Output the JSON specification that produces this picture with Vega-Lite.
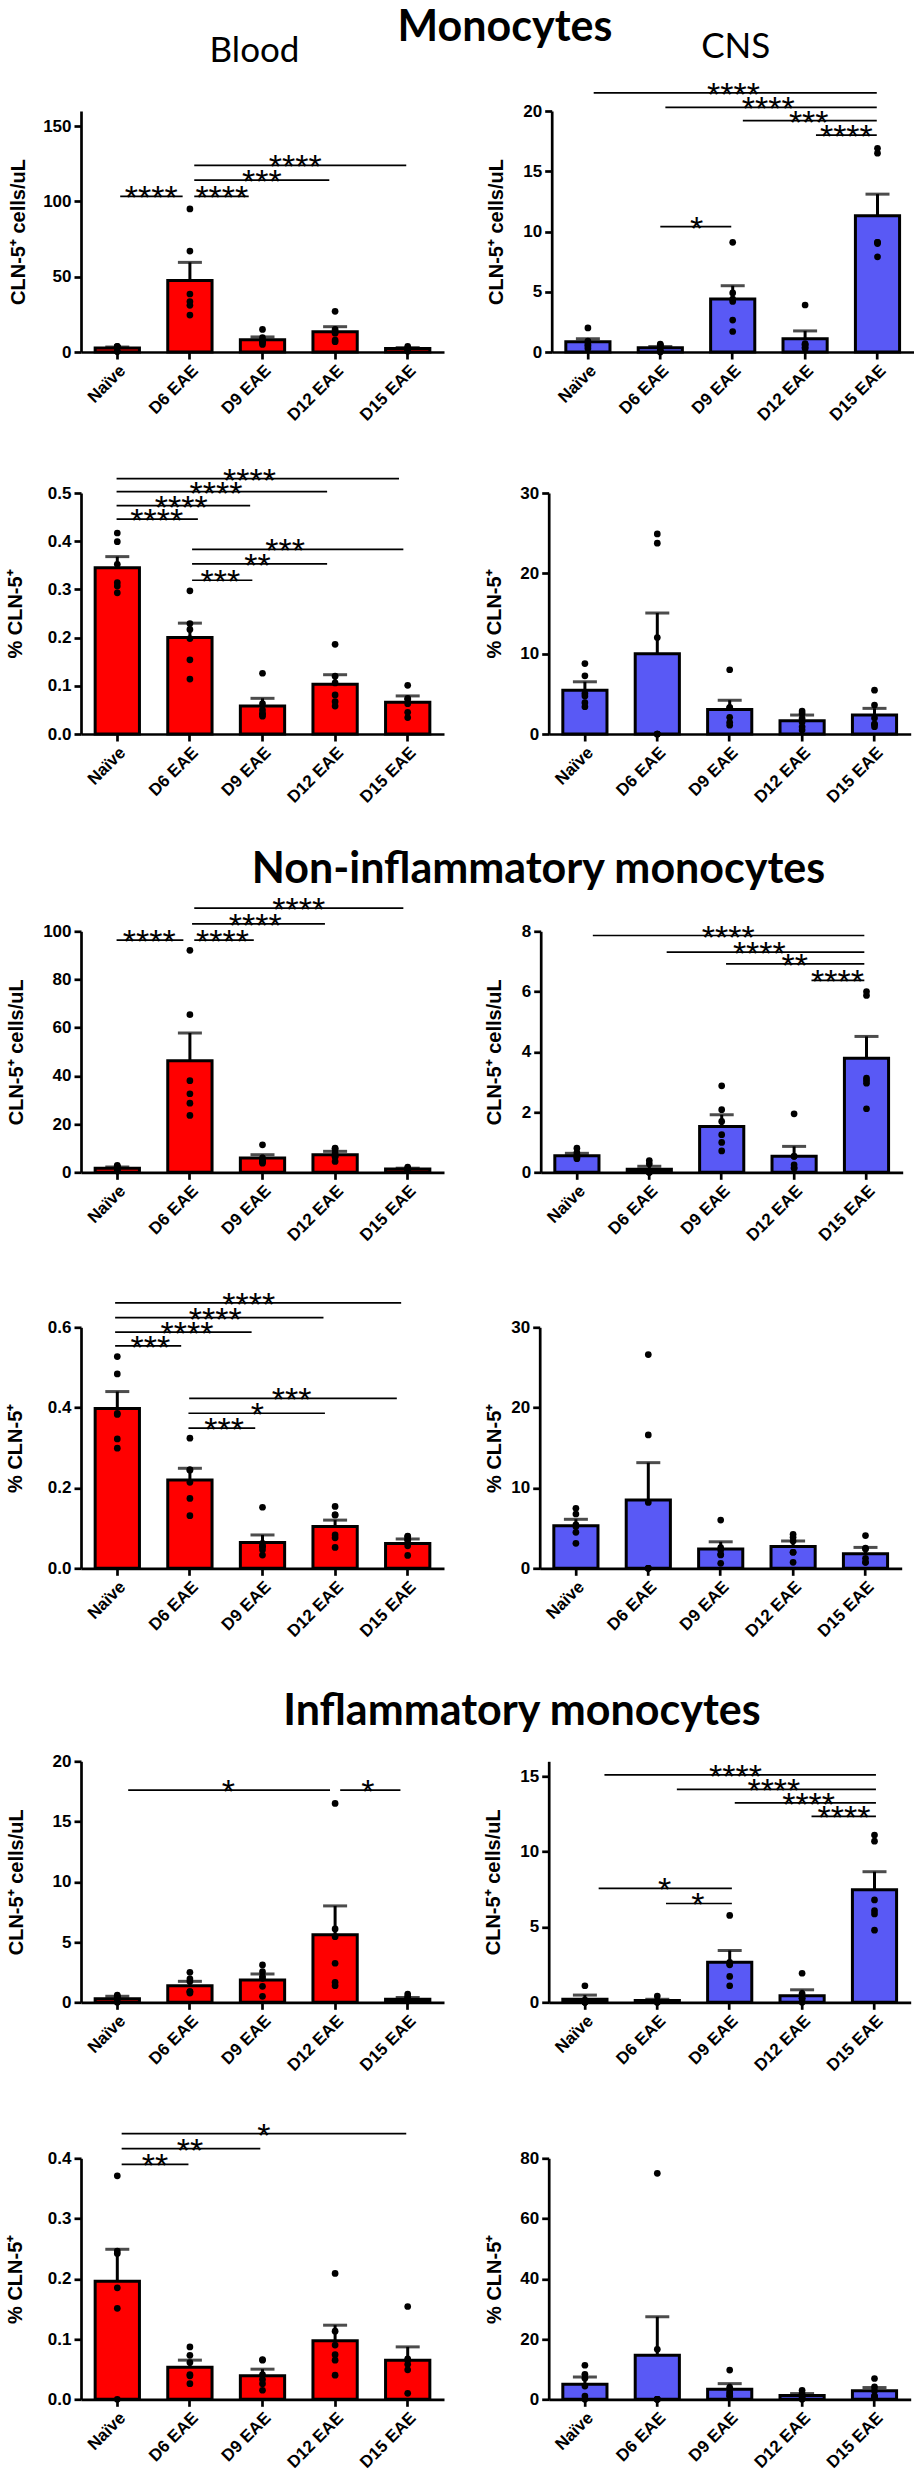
{
"$schema": "https://vega.github.io/schema/vega-lite/v6.json",
"padding": {"left": 5, "top": 7, "right": 0, "bottom": 0},
"background": "white",
"datasets": {
"bars": [
{"p":1,"g":"Naïve","m":2.6,"h":3.3},{"p":1,"g":"D6 EAE","m":47.5,"h":59.5},{"p":1,"g":"D9 EAE","m":8.2,"h":10},{"p":1,"g":"D12 EAE","m":13.5,"h":16.8},{"p":1,"g":"D15 EAE","m":2.3,"h":2.9},
{"p":2,"g":"Naïve","m":0.85,"h":1.1},{"p":2,"g":"D6 EAE","m":0.35,"h":0.45},{"p":2,"g":"D9 EAE","m":4.4,"h":5.5},{"p":2,"g":"D12 EAE","m":1.1,"h":1.75},{"p":2,"g":"D15 EAE","m":11.3,"h":13.1},
{"p":3,"g":"Naïve","m":0.345,"h":0.368},{"p":3,"g":"D6 EAE","m":0.2,"h":0.23},{"p":3,"g":"D9 EAE","m":0.058,"h":0.074},{"p":3,"g":"D12 EAE","m":0.103,"h":0.123},{"p":3,"g":"D15 EAE","m":0.066,"h":0.079},
{"p":4,"g":"Naïve","m":5.46,"h":6.5},{"p":4,"g":"D6 EAE","m":10.0,"h":15.06},{"p":4,"g":"D9 EAE","m":3.06,"h":4.2},{"p":4,"g":"D12 EAE","m":1.65,"h":2.36},{"p":4,"g":"D15 EAE","m":2.36,"h":3.19},
{"p":5,"g":"Naïve","m":1.7,"h":2.2},{"p":5,"g":"D6 EAE","m":46.3,"h":57.8},{"p":5,"g":"D9 EAE","m":5.9,"h":7.3},{"p":5,"g":"D12 EAE","m":7.3,"h":8.7},{"p":5,"g":"D15 EAE","m":1.4,"h":1.7},
{"p":6,"g":"Naïve","m":0.55,"h":0.63},{"p":6,"g":"D6 EAE","m":0.1,"h":0.2},{"p":6,"g":"D9 EAE","m":1.52,"h":1.91},{"p":6,"g":"D12 EAE","m":0.53,"h":0.86},{"p":6,"g":"D15 EAE","m":3.79,"h":4.51},
{"p":7,"g":"Naïve","m":0.398,"h":0.44},{"p":7,"g":"D6 EAE","m":0.22,"h":0.249},{"p":7,"g":"D9 EAE","m":0.064,"h":0.083},{"p":7,"g":"D12 EAE","m":0.104,"h":0.12},{"p":7,"g":"D15 EAE","m":0.062,"h":0.073},
{"p":8,"g":"Naïve","m":5.3,"h":6.1},{"p":8,"g":"D6 EAE","m":8.5,"h":13.15},{"p":8,"g":"D9 EAE","m":2.4,"h":3.3},{"p":8,"g":"D12 EAE","m":2.7,"h":3.4},{"p":8,"g":"D15 EAE","m":1.8,"h":2.6},
{"p":9,"g":"Naïve","m":0.3,"h":0.5},{"p":9,"g":"D6 EAE","m":1.38,"h":1.74},{"p":9,"g":"D9 EAE","m":1.85,"h":2.35},{"p":9,"g":"D12 EAE","m":5.6,"h":8.0},{"p":9,"g":"D15 EAE","m":0.25,"h":0.4},
{"p":10,"g":"Naïve","m":0.21,"h":0.48},{"p":10,"g":"D6 EAE","m":0.12,"h":0.2},{"p":10,"g":"D9 EAE","m":2.66,"h":3.44},{"p":10,"g":"D12 EAE","m":0.44,"h":0.83},{"p":10,"g":"D15 EAE","m":7.47,"h":8.67},
{"p":11,"g":"Naïve","m":0.196,"h":0.249},{"p":11,"g":"D6 EAE","m":0.053,"h":0.065},{"p":11,"g":"D9 EAE","m":0.039,"h":0.05},{"p":11,"g":"D12 EAE","m":0.097,"h":0.123},{"p":11,"g":"D15 EAE","m":0.065,"h":0.087},
{"p":12,"g":"Naïve","m":5.0,"h":7.4},{"p":12,"g":"D6 EAE","m":14.6,"h":27.4},{"p":12,"g":"D9 EAE","m":3.3,"h":5.2},{"p":12,"g":"D12 EAE","m":1.3,"h":1.9},{"p":12,"g":"D15 EAE","m":2.8,"h":3.9}
],
"pts": [
{"p":1,"g":"Naïve","v":0.3},{"p":1,"g":"Naïve","v":3.5},{"p":1,"g":"Naïve","v":3.8},{"p":1,"g":"Naïve","v":3.3},{"p":1,"g":"Naïve","v":0.5},{"p":1,"g":"Naïve","v":3.4},
{"p":1,"g":"D6 EAE","v":95},{"p":1,"g":"D6 EAE","v":67},{"p":1,"g":"D6 EAE","v":38.5},{"p":1,"g":"D6 EAE","v":33.5},{"p":1,"g":"D6 EAE","v":31},{"p":1,"g":"D6 EAE","v":24.5},
{"p":1,"g":"D9 EAE","v":15},{"p":1,"g":"D9 EAE","v":9.5},{"p":1,"g":"D9 EAE","v":7.5},{"p":1,"g":"D9 EAE","v":6.8},{"p":1,"g":"D9 EAE","v":6.5},{"p":1,"g":"D9 EAE","v":5},
{"p":1,"g":"D12 EAE","v":27},{"p":1,"g":"D12 EAE","v":15},{"p":1,"g":"D12 EAE","v":13.5},{"p":1,"g":"D12 EAE","v":12.5},{"p":1,"g":"D12 EAE","v":7.9},{"p":1,"g":"D12 EAE","v":6.8},
{"p":1,"g":"D15 EAE","v":3.8},{"p":1,"g":"D15 EAE","v":2.5},{"p":1,"g":"D15 EAE","v":2},{"p":1,"g":"D15 EAE","v":2},{"p":1,"g":"D15 EAE","v":1.5},{"p":1,"g":"D15 EAE","v":0.5},
{"p":2,"g":"Naïve","v":2.0},{"p":2,"g":"Naïve","v":0.9},{"p":2,"g":"Naïve","v":0.6},{"p":2,"g":"Naïve","v":0.5},{"p":2,"g":"Naïve","v":0.8},{"p":2,"g":"Naïve","v":0.3},
{"p":2,"g":"D6 EAE","v":0.1},{"p":2,"g":"D6 EAE","v":0.6},{"p":2,"g":"D6 EAE","v":0.0},{"p":2,"g":"D6 EAE","v":0.65},{"p":2,"g":"D6 EAE","v":0.1},{"p":2,"g":"D6 EAE","v":0.5},
{"p":2,"g":"D9 EAE","v":9.1},{"p":2,"g":"D9 EAE","v":4.9},{"p":2,"g":"D9 EAE","v":4.4},{"p":2,"g":"D9 EAE","v":4.2},{"p":2,"g":"D9 EAE","v":2.65},{"p":2,"g":"D9 EAE","v":1.7},
{"p":2,"g":"D12 EAE","v":3.9},{"p":2,"g":"D12 EAE","v":0.7},{"p":2,"g":"D12 EAE","v":0.6},{"p":2,"g":"D12 EAE","v":0.3},{"p":2,"g":"D12 EAE","v":0.4},{"p":2,"g":"D12 EAE","v":0.6},
{"p":2,"g":"D15 EAE","v":16.9},{"p":2,"g":"D15 EAE","v":16.5},{"p":2,"g":"D15 EAE","v":9.1},{"p":2,"g":"D15 EAE","v":9.0},{"p":2,"g":"D15 EAE","v":9.1},{"p":2,"g":"D15 EAE","v":7.9},
{"p":3,"g":"Naïve","v":0.417},{"p":3,"g":"Naïve","v":0.399},{"p":3,"g":"Naïve","v":0.352},{"p":3,"g":"Naïve","v":0.314},{"p":3,"g":"Naïve","v":0.307},{"p":3,"g":"Naïve","v":0.293},
{"p":3,"g":"D6 EAE","v":0.297},{"p":3,"g":"D6 EAE","v":0.229},{"p":3,"g":"D6 EAE","v":0.217},{"p":3,"g":"D6 EAE","v":0.198},{"p":3,"g":"D6 EAE","v":0.154},{"p":3,"g":"D6 EAE","v":0.114},
{"p":3,"g":"D9 EAE","v":0.126},{"p":3,"g":"D9 EAE","v":0.063},{"p":3,"g":"D9 EAE","v":0.05},{"p":3,"g":"D9 EAE","v":0.043},{"p":3,"g":"D9 EAE","v":0.041},{"p":3,"g":"D9 EAE","v":0.037},
{"p":3,"g":"D12 EAE","v":0.186},{"p":3,"g":"D12 EAE","v":0.12},{"p":3,"g":"D12 EAE","v":0.106},{"p":3,"g":"D12 EAE","v":0.081},{"p":3,"g":"D12 EAE","v":0.067},{"p":3,"g":"D12 EAE","v":0.058},
{"p":3,"g":"D15 EAE","v":0.101},{"p":3,"g":"D15 EAE","v":0.074},{"p":3,"g":"D15 EAE","v":0.072},{"p":3,"g":"D15 EAE","v":0.063},{"p":3,"g":"D15 EAE","v":0.045},{"p":3,"g":"D15 EAE","v":0.034},
{"p":4,"g":"Naïve","v":8.77},{"p":4,"g":"Naïve","v":7.24},{"p":4,"g":"Naïve","v":5.05},{"p":4,"g":"Naïve","v":4.72},{"p":4,"g":"Naïve","v":3.9},{"p":4,"g":"Naïve","v":3.39},
{"p":4,"g":"D6 EAE","v":24.9},{"p":4,"g":"D6 EAE","v":23.75},{"p":4,"g":"D6 EAE","v":12.0},{"p":4,"g":"D6 EAE","v":0},{"p":4,"g":"D6 EAE","v":0},{"p":4,"g":"D6 EAE","v":0},
{"p":4,"g":"D9 EAE","v":8.0},{"p":4,"g":"D9 EAE","v":3.3},{"p":4,"g":"D9 EAE","v":3.3},{"p":4,"g":"D9 EAE","v":2.07},{"p":4,"g":"D9 EAE","v":1.45},{"p":4,"g":"D9 EAE","v":1.1},
{"p":4,"g":"D12 EAE","v":2.85},{"p":4,"g":"D12 EAE","v":2.56},{"p":4,"g":"D12 EAE","v":1.94},{"p":4,"g":"D12 EAE","v":1.5},{"p":4,"g":"D12 EAE","v":0.9},{"p":4,"g":"D12 EAE","v":0.5},
{"p":4,"g":"D15 EAE","v":5.46},{"p":4,"g":"D15 EAE","v":3.6},{"p":4,"g":"D15 EAE","v":2.0},{"p":4,"g":"D15 EAE","v":1.24},{"p":4,"g":"D15 EAE","v":1.2},{"p":4,"g":"D15 EAE","v":0.91},
{"p":5,"g":"Naïve","v":2.9},{"p":5,"g":"Naïve","v":2.5},{"p":5,"g":"Naïve","v":2.2},{"p":5,"g":"Naïve","v":1.5},{"p":5,"g":"Naïve","v":0.6},{"p":5,"g":"Naïve","v":0.5},
{"p":5,"g":"D6 EAE","v":92.1},{"p":5,"g":"D6 EAE","v":65.4},{"p":5,"g":"D6 EAE","v":38.0},{"p":5,"g":"D6 EAE","v":32.6},{"p":5,"g":"D6 EAE","v":28.7},{"p":5,"g":"D6 EAE","v":23.6},
{"p":5,"g":"D9 EAE","v":11.4},{"p":5,"g":"D9 EAE","v":6.0},{"p":5,"g":"D9 EAE","v":4.8},{"p":5,"g":"D9 EAE","v":4.6},{"p":5,"g":"D9 EAE","v":4.5},{"p":5,"g":"D9 EAE","v":3.8},
{"p":5,"g":"D12 EAE","v":10.0},{"p":5,"g":"D12 EAE","v":9.7},{"p":5,"g":"D12 EAE","v":8.0},{"p":5,"g":"D12 EAE","v":6.6},{"p":5,"g":"D12 EAE","v":6.6},{"p":5,"g":"D12 EAE","v":4.5},
{"p":5,"g":"D15 EAE","v":2.2},{"p":5,"g":"D15 EAE","v":1.5},{"p":5,"g":"D15 EAE","v":1.5},{"p":5,"g":"D15 EAE","v":1.2},{"p":5,"g":"D15 EAE","v":1.0},{"p":5,"g":"D15 EAE","v":0.8},
{"p":6,"g":"Naïve","v":0.8},{"p":6,"g":"Naïve","v":0.65},{"p":6,"g":"Naïve","v":0.55},{"p":6,"g":"Naïve","v":0.55},{"p":6,"g":"Naïve","v":0.5},{"p":6,"g":"Naïve","v":0.45},
{"p":6,"g":"D6 EAE","v":0.39},{"p":6,"g":"D6 EAE","v":0.28},{"p":6,"g":"D6 EAE","v":0.02},{"p":6,"g":"D6 EAE","v":0},{"p":6,"g":"D6 EAE","v":0},{"p":6,"g":"D6 EAE","v":0},
{"p":6,"g":"D9 EAE","v":2.87},{"p":6,"g":"D9 EAE","v":2.08},{"p":6,"g":"D9 EAE","v":1.69},{"p":6,"g":"D9 EAE","v":1.25},{"p":6,"g":"D9 EAE","v":0.99},{"p":6,"g":"D9 EAE","v":0.71},
{"p":6,"g":"D12 EAE","v":1.94},{"p":6,"g":"D12 EAE","v":0.53},{"p":6,"g":"D12 EAE","v":0.53},{"p":6,"g":"D12 EAE","v":0.25},{"p":6,"g":"D12 EAE","v":0.14},{"p":6,"g":"D12 EAE","v":0.14},
{"p":6,"g":"D15 EAE","v":6.0},{"p":6,"g":"D15 EAE","v":5.87},{"p":6,"g":"D15 EAE","v":3.13},{"p":6,"g":"D15 EAE","v":3.05},{"p":6,"g":"D15 EAE","v":2.96},{"p":6,"g":"D15 EAE","v":2.11},
{"p":7,"g":"Naïve","v":0.527},{"p":7,"g":"Naïve","v":0.484},{"p":7,"g":"Naïve","v":0.386},{"p":7,"g":"Naïve","v":0.383},{"p":7,"g":"Naïve","v":0.322},{"p":7,"g":"Naïve","v":0.299},
{"p":7,"g":"D6 EAE","v":0.324},{"p":7,"g":"D6 EAE","v":0.245},{"p":7,"g":"D6 EAE","v":0.245},{"p":7,"g":"D6 EAE","v":0.214},{"p":7,"g":"D6 EAE","v":0.174},{"p":7,"g":"D6 EAE","v":0.131},
{"p":7,"g":"D9 EAE","v":0.152},{"p":7,"g":"D9 EAE","v":0.062},{"p":7,"g":"D9 EAE","v":0.054},{"p":7,"g":"D9 EAE","v":0.054},{"p":7,"g":"D9 EAE","v":0.046},{"p":7,"g":"D9 EAE","v":0.033},
{"p":7,"g":"D12 EAE","v":0.154},{"p":7,"g":"D12 EAE","v":0.133},{"p":7,"g":"D12 EAE","v":0.133},{"p":7,"g":"D12 EAE","v":0.083},{"p":7,"g":"D12 EAE","v":0.076},{"p":7,"g":"D12 EAE","v":0.052},
{"p":7,"g":"D15 EAE","v":0.08},{"p":7,"g":"D15 EAE","v":0.079},{"p":7,"g":"D15 EAE","v":0.072},{"p":7,"g":"D15 EAE","v":0.07},{"p":7,"g":"D15 EAE","v":0.056},{"p":7,"g":"D15 EAE","v":0.032},
{"p":8,"g":"Naïve","v":7.47},{"p":8,"g":"Naïve","v":6.76},{"p":8,"g":"Naïve","v":5.4},{"p":8,"g":"Naïve","v":5.2},{"p":8,"g":"Naïve","v":4.48},{"p":8,"g":"Naïve","v":3.11},
{"p":8,"g":"D6 EAE","v":26.6},{"p":8,"g":"D6 EAE","v":16.6},{"p":8,"g":"D6 EAE","v":8.2},{"p":8,"g":"D6 EAE","v":0},{"p":8,"g":"D6 EAE","v":0},{"p":8,"g":"D6 EAE","v":0},
{"p":8,"g":"D9 EAE","v":6.0},{"p":8,"g":"D9 EAE","v":2.57},{"p":8,"g":"D9 EAE","v":2.28},{"p":8,"g":"D9 EAE","v":1.74},{"p":8,"g":"D9 EAE","v":1.66},{"p":8,"g":"D9 EAE","v":0.62},
{"p":8,"g":"D12 EAE","v":4.23},{"p":8,"g":"D12 EAE","v":3.86},{"p":8,"g":"D12 EAE","v":3.4},{"p":8,"g":"D12 EAE","v":2.0},{"p":8,"g":"D12 EAE","v":2.0},{"p":8,"g":"D12 EAE","v":0.75},
{"p":8,"g":"D15 EAE","v":4.07},{"p":8,"g":"D15 EAE","v":2.5},{"p":8,"g":"D15 EAE","v":2.4},{"p":8,"g":"D15 EAE","v":1.24},{"p":8,"g":"D15 EAE","v":0.75},{"p":8,"g":"D15 EAE","v":0.75},
{"p":9,"g":"Naïve","v":0.6},{"p":9,"g":"Naïve","v":0.5},{"p":9,"g":"Naïve","v":0.45},{"p":9,"g":"Naïve","v":0.35},{"p":9,"g":"Naïve","v":0.05},{"p":9,"g":"Naïve","v":0.0},
{"p":9,"g":"D6 EAE","v":2.49},{"p":9,"g":"D6 EAE","v":1.94},{"p":9,"g":"D6 EAE","v":1.72},{"p":9,"g":"D6 EAE","v":0.89},{"p":9,"g":"D6 EAE","v":0.89},{"p":9,"g":"D6 EAE","v":0.77},
{"p":9,"g":"D9 EAE","v":3.1},{"p":9,"g":"D9 EAE","v":2.54},{"p":9,"g":"D9 EAE","v":2.16},{"p":9,"g":"D9 EAE","v":1.99},{"p":9,"g":"D9 EAE","v":1.33},{"p":9,"g":"D9 EAE","v":0.5},
{"p":9,"g":"D12 EAE","v":16.5},{"p":9,"g":"D12 EAE","v":6.09},{"p":9,"g":"D12 EAE","v":5.45},{"p":9,"g":"D12 EAE","v":3.24},{"p":9,"g":"D12 EAE","v":1.66},{"p":9,"g":"D12 EAE","v":1.38},
{"p":9,"g":"D15 EAE","v":0.69},{"p":9,"g":"D15 EAE","v":0.5},{"p":9,"g":"D15 EAE","v":0.3},{"p":9,"g":"D15 EAE","v":0.28},{"p":9,"g":"D15 EAE","v":0.14},{"p":9,"g":"D15 EAE","v":0.1},
{"p":10,"g":"Naïve","v":1.1},{"p":10,"g":"Naïve","v":0.15},{"p":10,"g":"Naïve","v":0.1},{"p":10,"g":"Naïve","v":0},{"p":10,"g":"Naïve","v":0},{"p":10,"g":"Naïve","v":0},
{"p":10,"g":"D6 EAE","v":0.41},{"p":10,"g":"D6 EAE","v":0.1},{"p":10,"g":"D6 EAE","v":0.05},{"p":10,"g":"D6 EAE","v":0.05},{"p":10,"g":"D6 EAE","v":0},{"p":10,"g":"D6 EAE","v":0},
{"p":10,"g":"D9 EAE","v":5.77},{"p":10,"g":"D9 EAE","v":2.66},{"p":10,"g":"D9 EAE","v":2.55},{"p":10,"g":"D9 EAE","v":2.49},{"p":10,"g":"D9 EAE","v":1.72},{"p":10,"g":"D9 EAE","v":1.1},
{"p":10,"g":"D12 EAE","v":1.93},{"p":10,"g":"D12 EAE","v":0.58},{"p":10,"g":"D12 EAE","v":0.27},{"p":10,"g":"D12 EAE","v":0.27},{"p":10,"g":"D12 EAE","v":0.05},{"p":10,"g":"D12 EAE","v":0},
{"p":10,"g":"D15 EAE","v":11.1},{"p":10,"g":"D15 EAE","v":10.7},{"p":10,"g":"D15 EAE","v":6.8},{"p":10,"g":"D15 EAE","v":6.08},{"p":10,"g":"D15 EAE","v":5.87},{"p":10,"g":"D15 EAE","v":4.79},
{"p":11,"g":"Naïve","v":0.371},{"p":11,"g":"Naïve","v":0.246},{"p":11,"g":"Naïve","v":0.242},{"p":11,"g":"Naïve","v":0.185},{"p":11,"g":"Naïve","v":0.151},{"p":11,"g":"Naïve","v":0},
{"p":11,"g":"D6 EAE","v":0.087},{"p":11,"g":"D6 EAE","v":0.073},{"p":11,"g":"D6 EAE","v":0.061},{"p":11,"g":"D6 EAE","v":0.041},{"p":11,"g":"D6 EAE","v":0.039},{"p":11,"g":"D6 EAE","v":0.026},
{"p":11,"g":"D9 EAE","v":0.066},{"p":11,"g":"D9 EAE","v":0.065},{"p":11,"g":"D9 EAE","v":0.041},{"p":11,"g":"D9 EAE","v":0.033},{"p":11,"g":"D9 EAE","v":0.026},{"p":11,"g":"D9 EAE","v":0.015},
{"p":11,"g":"D12 EAE","v":0.209},{"p":11,"g":"D12 EAE","v":0.113},{"p":11,"g":"D12 EAE","v":0.09},{"p":11,"g":"D12 EAE","v":0.074},{"p":11,"g":"D12 EAE","v":0.065},{"p":11,"g":"D12 EAE","v":0.04},
{"p":11,"g":"D15 EAE","v":0.154},{"p":11,"g":"D15 EAE","v":0.067},{"p":11,"g":"D15 EAE","v":0.065},{"p":11,"g":"D15 EAE","v":0.058},{"p":11,"g":"D15 EAE","v":0.049},{"p":11,"g":"D15 EAE","v":0.01},
{"p":12,"g":"Naïve","v":11.3},{"p":12,"g":"Naïve","v":8.3},{"p":12,"g":"Naïve","v":7.0},{"p":12,"g":"Naïve","v":4.4},{"p":12,"g":"Naïve","v":1.1},{"p":12,"g":"Naïve","v":0},
{"p":12,"g":"D6 EAE","v":75.0},{"p":12,"g":"D6 EAE","v":16.6},{"p":12,"g":"D6 EAE","v":0},{"p":12,"g":"D6 EAE","v":0},{"p":12,"g":"D6 EAE","v":0},{"p":12,"g":"D6 EAE","v":0},
{"p":12,"g":"D9 EAE","v":9.7},{"p":12,"g":"D9 EAE","v":4.0},{"p":12,"g":"D9 EAE","v":2.5},{"p":12,"g":"D9 EAE","v":1.9},{"p":12,"g":"D9 EAE","v":1.3},{"p":12,"g":"D9 EAE","v":1.0},
{"p":12,"g":"D12 EAE","v":3.0},{"p":12,"g":"D12 EAE","v":1.9},{"p":12,"g":"D12 EAE","v":1.1},{"p":12,"g":"D12 EAE","v":1.1},{"p":12,"g":"D12 EAE","v":0.5},{"p":12,"g":"D12 EAE","v":0},
{"p":12,"g":"D15 EAE","v":6.9},{"p":12,"g":"D15 EAE","v":4.1},{"p":12,"g":"D15 EAE","v":2.8},{"p":12,"g":"D15 EAE","v":1.1},{"p":12,"g":"D15 EAE","v":1.1},{"p":12,"g":"D15 EAE","v":0.5}
],
"sig": [
{"p":1,"a":0.04,"b":0.9,"c":0.467,"y":103.3,"s":"****"},{"p":1,"a":1.06,"b":1.81,"c":1.44,"y":103.3,"s":"****"},{"p":1,"a":1.06,"b":2.92,"c":1.99,"y":114.1,"s":"***"},{"p":1,"a":1.06,"b":3.98,"c":2.45,"y":123.9,"s":"****"},
{"p":2,"a":0.08,"b":3.99,"c":2.01,"y":21.5,"s":"****"},{"p":2,"a":1.07,"b":3.99,"c":2.49,"y":20.3,"s":"****"},{"p":2,"a":2.14,"b":3.99,"c":3.05,"y":19.2,"s":"***"},{"p":2,"a":3.15,"b":3.99,"c":3.57,"y":18.0,"s":"****"},{"p":2,"a":1.0,"b":1.98,"c":1.5,"y":10.4,"s":"*"},
{"p":3,"a":-0.01,"b":1.11,"c":0.544,"y":0.446,"s":"****"},{"p":3,"a":-0.01,"b":1.83,"c":0.88,"y":0.474,"s":"****"},{"p":3,"a":-0.01,"b":2.89,"c":1.36,"y":0.503,"s":"****"},{"p":3,"a":-0.01,"b":3.88,"c":1.82,"y":0.53,"s":"****"},{"p":3,"a":1.03,"b":1.86,"c":1.42,"y":0.319,"s":"***"},{"p":3,"a":1.03,"b":2.89,"c":1.93,"y":0.353,"s":"**"},{"p":3,"a":1.03,"b":3.94,"c":2.31,"y":0.383,"s":"***"},
{"p":5,"a":-0.01,"b":0.91,"c":0.44,"y":96.3,"s":"****"},{"p":5,"a":1.06,"b":1.88,"c":1.45,"y":96.3,"s":"****"},{"p":5,"a":1.03,"b":2.86,"c":1.9,"y":103.1,"s":"****"},{"p":5,"a":1.06,"b":3.94,"c":2.5,"y":109.6,"s":"****"},
{"p":6,"a":0.22,"b":3.97,"c":2.09,"y":7.86,"s":"****"},{"p":6,"a":1.24,"b":3.97,"c":2.52,"y":7.31,"s":"****"},{"p":6,"a":2.06,"b":3.97,"c":3.01,"y":6.92,"s":"**"},{"p":6,"a":3.24,"b":3.97,"c":3.6,"y":6.37,"s":"****"},
{"p":7,"a":-0.03,"b":0.88,"c":0.455,"y":0.554,"s":"***"},{"p":7,"a":-0.03,"b":1.85,"c":0.96,"y":0.588,"s":"****"},{"p":7,"a":-0.03,"b":2.84,"c":1.35,"y":0.624,"s":"****"},{"p":7,"a":-0.03,"b":3.91,"c":1.81,"y":0.661,"s":"****"},{"p":7,"a":0.98,"b":1.9,"c":1.47,"y":0.349,"s":"***"},{"p":7,"a":0.98,"b":2.86,"c":1.93,"y":0.386,"s":"*"},{"p":7,"a":0.99,"b":3.85,"c":2.4,"y":0.423,"s":"***"},
{"p":9,"a":0.15,"b":2.93,"c":1.53,"y":17.6,"s":"*"},{"p":9,"a":3.07,"b":3.9,"c":3.45,"y":17.6,"s":"*"},
{"p":10,"a":0.27,"b":4.02,"c":2.08,"y":15.1,"s":"****"},{"p":10,"a":1.27,"b":4.02,"c":2.61,"y":14.13,"s":"****"},{"p":10,"a":2.07,"b":4.02,"c":3.09,"y":13.24,"s":"****"},{"p":10,"a":3.13,"b":4.02,"c":3.58,"y":12.34,"s":"****"},{"p":10,"a":0.19,"b":2.03,"c":1.1,"y":7.57,"s":"*"},{"p":10,"a":1.12,"b":2.03,"c":1.56,"y":6.56,"s":"*"},
{"p":11,"a":0.06,"b":0.98,"c":0.52,"y":0.39,"s":"**"},{"p":11,"a":0.06,"b":1.97,"c":1.0,"y":0.416,"s":"**"},{"p":11,"a":0.06,"b":3.98,"c":2.02,"y":0.441,"s":"*"}
]
},
"config": {
"view": {"stroke": null},
"axis": {"domainColor": "black", "domainWidth": 2.7, "tickColor": "black", "tickWidth": 2.7, "tickSize": 7, "labelColor": "black", "labelFont": "Liberation Sans", "labelFontWeight": "bold", "labelFontSize": 17, "labelPadding": 3, "titleColor": "black", "titleFont": "Liberation Sans", "titleFontWeight": "bold", "titleFontSize": 20, "grid": false},
"axisX": {"labelAngle": -45},
"title": {"color": "black"}
},
"spacing": 40,
"vconcat": [
{"hconcat": [
 {"width": 363, "height": 241,
  "title": {"text": "Blood", "font": "Lato", "fontSize": 35, "fontWeight": "normal", "frame": "group", "anchor": "middle", "dx": -8, "offset": 42},
  "layer": [
   {"layer": [
    {"data": {"name": "bars"}, "transform": [{"filter": "datum.p==1"}], "mark": {"type": "bar", "fill": "#ff0000", "stroke": "black", "strokeWidth": 3},
     "encoding": {"x": {"field": "g", "type": "nominal", "sort": ["Naïve","D6 EAE","D9 EAE","D12 EAE","D15 EAE"], "scale": {"paddingInner": 0.39, "paddingOuter": 0.195}, "axis": {"title": null}},
      "y": {"field": "m", "type": "quantitative", "scale": {"domain": [0,150]}, "axis": {"title": "CLN-5⁺ cells/uL", "values": [0,50,100,150], "titlePadding": 14.4}}}},
    {"data": {"name": "bars"}, "transform": [{"filter": "datum.p==1"}], "mark": {"type": "rule", "color": "black", "strokeWidth": 3},
     "encoding": {"x": {"field": "g", "type": "nominal", "sort": ["Naïve","D6 EAE","D9 EAE","D12 EAE","D15 EAE"]}, "y": {"field": "m", "type": "quantitative"}, "y2": {"field": "h"}}},
    {"data": {"name": "bars"}, "transform": [{"filter": "datum.p==1"}], "mark": {"type": "tick", "color": "black", "thickness": 3, "size": 24},
     "encoding": {"x": {"field": "g", "type": "nominal", "sort": ["Naïve","D6 EAE","D9 EAE","D12 EAE","D15 EAE"]}, "y": {"field": "h", "type": "quantitative"}}},
    {"data": {"name": "pts"}, "transform": [{"filter": "datum.p==1"}], "mark": {"type": "circle", "color": "black", "opacity": 1, "size": 45},
     "encoding": {"x": {"field": "g", "type": "nominal", "sort": ["Naïve","D6 EAE","D9 EAE","D12 EAE","D15 EAE"]}, "y": {"field": "v", "type": "quantitative"}}}
   ]},
   {"layer": [
    {"data": {"name": "sig"}, "transform": [{"filter": "datum.p==1"}], "mark": {"type": "rule", "color": "black", "strokeWidth": 1.7},
     "encoding": {"x": {"field": "a", "type": "quantitative", "scale": {"domain": [-0.5,4.5], "nice": false, "zero": false}, "axis": null}, "x2": {"field": "b"}, "y": {"field": "y", "type": "quantitative"}}},
    {"data": {"name": "sig"}, "transform": [{"filter": "datum.p==1"}], "mark": {"type": "text", "font": "Liberation Sans", "fontSize": 34, "baseline": "middle", "dy": 3, "color": "black"},
     "encoding": {"x": {"field": "c", "type": "quantitative", "scale": {"domain": [-0.5,4.5], "nice": false, "zero": false}, "axis": null}, "y": {"field": "y", "type": "quantitative"}, "text": {"field": "s"}}}
   ]}
  ],
  "resolve": {"scale": {"x": "independent"}}},
 {"width": 362, "height": 241,
  "title": {"text": "CNS", "font": "Lato", "fontSize": 35, "fontWeight": "normal", "frame": "group", "anchor": "middle", "dx": 3, "offset": 14},
  "layer": [
   {"layer": [
    {"data": {"name": "bars"}, "transform": [{"filter": "datum.p==2"}], "mark": {"type": "bar", "fill": "#5959f5", "stroke": "black", "strokeWidth": 3},
     "encoding": {"x": {"field": "g", "type": "nominal", "sort": ["Naïve","D6 EAE","D9 EAE","D12 EAE","D15 EAE"], "scale": {"paddingInner": 0.39, "paddingOuter": 0.195}, "axis": {"title": null}},
      "y": {"field": "m", "type": "quantitative", "scale": {"domain": [0,20]}, "axis": {"title": "CLN-5⁺ cells/uL", "values": [0,5,10,15,20], "titlePadding": 15.9}}}},
    {"data": {"name": "bars"}, "transform": [{"filter": "datum.p==2"}], "mark": {"type": "rule", "color": "black", "strokeWidth": 3},
     "encoding": {"x": {"field": "g", "type": "nominal", "sort": ["Naïve","D6 EAE","D9 EAE","D12 EAE","D15 EAE"]}, "y": {"field": "m", "type": "quantitative"}, "y2": {"field": "h"}}},
    {"data": {"name": "bars"}, "transform": [{"filter": "datum.p==2"}], "mark": {"type": "tick", "color": "black", "thickness": 3, "size": 24},
     "encoding": {"x": {"field": "g", "type": "nominal", "sort": ["Naïve","D6 EAE","D9 EAE","D12 EAE","D15 EAE"]}, "y": {"field": "h", "type": "quantitative"}}},
    {"data": {"name": "pts"}, "transform": [{"filter": "datum.p==2"}], "mark": {"type": "circle", "color": "black", "opacity": 1, "size": 45},
     "encoding": {"x": {"field": "g", "type": "nominal", "sort": ["Naïve","D6 EAE","D9 EAE","D12 EAE","D15 EAE"]}, "y": {"field": "v", "type": "quantitative"}}}
   ]},
   {"layer": [
    {"data": {"name": "sig"}, "transform": [{"filter": "datum.p==2"}], "mark": {"type": "rule", "color": "black", "strokeWidth": 1.7},
     "encoding": {"x": {"field": "a", "type": "quantitative", "scale": {"domain": [-0.5,4.5], "nice": false, "zero": false}, "axis": null}, "x2": {"field": "b"}, "y": {"field": "y", "type": "quantitative"}}},
    {"data": {"name": "sig"}, "transform": [{"filter": "datum.p==2"}], "mark": {"type": "text", "font": "Liberation Sans", "fontSize": 34, "baseline": "middle", "dy": 3, "color": "black"},
     "encoding": {"x": {"field": "c", "type": "quantitative", "scale": {"domain": [-0.5,4.5], "nice": false, "zero": false}, "axis": null}, "y": {"field": "y", "type": "quantitative"}, "text": {"field": "s"}}}
   ]}
  ],
  "resolve": {"scale": {"x": "independent"}}}
 ],
 "spacing": 107.7, "bounds": "flush",
 "title": {"text": "Monocytes", "font": "Lato", "fontSize": 43, "fontWeight": "bold", "anchor": "middle", "dx": 44, "offset": -20.5}},
{"vconcat": [
 {"hconcat": [
  {"width": 363, "height": 241,
   "layer": [
    {"layer": [
     {"data": {"name": "bars"}, "transform": [{"filter": "datum.p==3"}], "mark": {"type": "bar", "fill": "#ff0000", "stroke": "black", "strokeWidth": 3},
      "encoding": {"x": {"field": "g", "type": "nominal", "sort": ["Naïve","D6 EAE","D9 EAE","D12 EAE","D15 EAE"], "scale": {"paddingInner": 0.39, "paddingOuter": 0.195}, "axis": {"title": null}},
       "y": {"field": "m", "type": "quantitative", "scale": {"domain": [0,0.5]}, "axis": {"title": "% CLN-5⁺", "values": [0,0.1,0.2,0.3,0.4,0.5], "format": ".1f", "titlePadding": 21.7}}}},
     {"data": {"name": "bars"}, "transform": [{"filter": "datum.p==3"}], "mark": {"type": "rule", "color": "black", "strokeWidth": 3},
      "encoding": {"x": {"field": "g", "type": "nominal", "sort": ["Naïve","D6 EAE","D9 EAE","D12 EAE","D15 EAE"]}, "y": {"field": "m", "type": "quantitative"}, "y2": {"field": "h"}}},
     {"data": {"name": "bars"}, "transform": [{"filter": "datum.p==3"}], "mark": {"type": "tick", "color": "black", "thickness": 3, "size": 24},
      "encoding": {"x": {"field": "g", "type": "nominal", "sort": ["Naïve","D6 EAE","D9 EAE","D12 EAE","D15 EAE"]}, "y": {"field": "h", "type": "quantitative"}}},
     {"data": {"name": "pts"}, "transform": [{"filter": "datum.p==3"}], "mark": {"type": "circle", "color": "black", "opacity": 1, "size": 45},
      "encoding": {"x": {"field": "g", "type": "nominal", "sort": ["Naïve","D6 EAE","D9 EAE","D12 EAE","D15 EAE"]}, "y": {"field": "v", "type": "quantitative"}}}
    ]},
    {"layer": [
     {"data": {"name": "sig"}, "transform": [{"filter": "datum.p==3"}], "mark": {"type": "rule", "color": "black", "strokeWidth": 1.7},
      "encoding": {"x": {"field": "a", "type": "quantitative", "scale": {"domain": [-0.5,4.5], "nice": false, "zero": false}, "axis": null}, "x2": {"field": "b"}, "y": {"field": "y", "type": "quantitative"}}},
     {"data": {"name": "sig"}, "transform": [{"filter": "datum.p==3"}], "mark": {"type": "text", "font": "Liberation Sans", "fontSize": 34, "baseline": "middle", "dy": 3, "color": "black"},
      "encoding": {"x": {"field": "c", "type": "quantitative", "scale": {"domain": [-0.5,4.5], "nice": false, "zero": false}, "axis": null}, "y": {"field": "y", "type": "quantitative"}, "text": {"field": "s"}}}
    ]}
   ],
   "resolve": {"scale": {"x": "independent"}}},
  {"width": 362, "height": 241,
   "layer": [
    {"data": {"name": "bars"}, "transform": [{"filter": "datum.p==4"}], "mark": {"type": "bar", "fill": "#5959f5", "stroke": "black", "strokeWidth": 3},
     "encoding": {"x": {"field": "g", "type": "nominal", "sort": ["Naïve","D6 EAE","D9 EAE","D12 EAE","D15 EAE"], "scale": {"paddingInner": 0.39, "paddingOuter": 0.195}, "axis": {"title": null}},
      "y": {"field": "m", "type": "quantitative", "scale": {"domain": [0,30]}, "axis": {"title": "% CLN-5⁺", "values": [0,10,20,30], "titlePadding": 14.9}}}},
    {"data": {"name": "bars"}, "transform": [{"filter": "datum.p==4"}], "mark": {"type": "rule", "color": "black", "strokeWidth": 3},
     "encoding": {"x": {"field": "g", "type": "nominal", "sort": ["Naïve","D6 EAE","D9 EAE","D12 EAE","D15 EAE"]}, "y": {"field": "m", "type": "quantitative"}, "y2": {"field": "h"}}},
    {"data": {"name": "bars"}, "transform": [{"filter": "datum.p==4"}], "mark": {"type": "tick", "color": "black", "thickness": 3, "size": 24},
     "encoding": {"x": {"field": "g", "type": "nominal", "sort": ["Naïve","D6 EAE","D9 EAE","D12 EAE","D15 EAE"]}, "y": {"field": "h", "type": "quantitative"}}},
    {"data": {"name": "pts"}, "transform": [{"filter": "datum.p==4"}], "mark": {"type": "circle", "color": "black", "opacity": 1, "size": 45},
     "encoding": {"x": {"field": "g", "type": "nominal", "sort": ["Naïve","D6 EAE","D9 EAE","D12 EAE","D15 EAE"]}, "y": {"field": "v", "type": "quantitative"}}}
   ]}
 ], "spacing": 104.7, "bounds": "flush"},
 {"vconcat": [
  {"hconcat": [
   {"width": 363, "height": 241,
    "layer": [
     {"layer": [
      {"data": {"name": "bars"}, "transform": [{"filter": "datum.p==5"}], "mark": {"type": "bar", "fill": "#ff0000", "stroke": "black", "strokeWidth": 3},
       "encoding": {"x": {"field": "g", "type": "nominal", "sort": ["Naïve","D6 EAE","D9 EAE","D12 EAE","D15 EAE"], "scale": {"paddingInner": 0.39, "paddingOuter": 0.195}, "axis": {"title": null}},
        "y": {"field": "m", "type": "quantitative", "scale": {"domain": [0,100]}, "axis": {"title": "CLN-5⁺ cells/uL", "values": [0,20,40,60,80,100], "titlePadding": 16.4}}}},
      {"data": {"name": "bars"}, "transform": [{"filter": "datum.p==5"}], "mark": {"type": "rule", "color": "black", "strokeWidth": 3},
       "encoding": {"x": {"field": "g", "type": "nominal", "sort": ["Naïve","D6 EAE","D9 EAE","D12 EAE","D15 EAE"]}, "y": {"field": "m", "type": "quantitative"}, "y2": {"field": "h"}}},
      {"data": {"name": "bars"}, "transform": [{"filter": "datum.p==5"}], "mark": {"type": "tick", "color": "black", "thickness": 3, "size": 24},
       "encoding": {"x": {"field": "g", "type": "nominal", "sort": ["Naïve","D6 EAE","D9 EAE","D12 EAE","D15 EAE"]}, "y": {"field": "h", "type": "quantitative"}}},
      {"data": {"name": "pts"}, "transform": [{"filter": "datum.p==5"}], "mark": {"type": "circle", "color": "black", "opacity": 1, "size": 45},
       "encoding": {"x": {"field": "g", "type": "nominal", "sort": ["Naïve","D6 EAE","D9 EAE","D12 EAE","D15 EAE"]}, "y": {"field": "v", "type": "quantitative"}}}
     ]},
     {"layer": [
      {"data": {"name": "sig"}, "transform": [{"filter": "datum.p==5"}], "mark": {"type": "rule", "color": "black", "strokeWidth": 1.7},
       "encoding": {"x": {"field": "a", "type": "quantitative", "scale": {"domain": [-0.5,4.5], "nice": false, "zero": false}, "axis": null}, "x2": {"field": "b"}, "y": {"field": "y", "type": "quantitative"}}},
      {"data": {"name": "sig"}, "transform": [{"filter": "datum.p==5"}], "mark": {"type": "text", "font": "Liberation Sans", "fontSize": 34, "baseline": "middle", "dy": 3, "color": "black"},
       "encoding": {"x": {"field": "c", "type": "quantitative", "scale": {"domain": [-0.5,4.5], "nice": false, "zero": false}, "axis": null}, "y": {"field": "y", "type": "quantitative"}, "text": {"field": "s"}}}
     ]}
    ],
    "resolve": {"scale": {"x": "independent"}}},
   {"width": 362, "height": 241,
    "layer": [
     {"layer": [
      {"data": {"name": "bars"}, "transform": [{"filter": "datum.p==6"}], "mark": {"type": "bar", "fill": "#5959f5", "stroke": "black", "strokeWidth": 3},
       "encoding": {"x": {"field": "g", "type": "nominal", "sort": ["Naïve","D6 EAE","D9 EAE","D12 EAE","D15 EAE"], "scale": {"paddingInner": 0.39, "paddingOuter": 0.195}, "axis": {"title": null}},
        "y": {"field": "m", "type": "quantitative", "scale": {"domain": [0,8]}, "axis": {"title": "CLN-5⁺ cells/uL", "values": [0,2,4,6,8], "titlePadding": 16.4}}}},
      {"data": {"name": "bars"}, "transform": [{"filter": "datum.p==6"}], "mark": {"type": "rule", "color": "black", "strokeWidth": 3},
       "encoding": {"x": {"field": "g", "type": "nominal", "sort": ["Naïve","D6 EAE","D9 EAE","D12 EAE","D15 EAE"]}, "y": {"field": "m", "type": "quantitative"}, "y2": {"field": "h"}}},
      {"data": {"name": "bars"}, "transform": [{"filter": "datum.p==6"}], "mark": {"type": "tick", "color": "black", "thickness": 3, "size": 24},
       "encoding": {"x": {"field": "g", "type": "nominal", "sort": ["Naïve","D6 EAE","D9 EAE","D12 EAE","D15 EAE"]}, "y": {"field": "h", "type": "quantitative"}}},
      {"data": {"name": "pts"}, "transform": [{"filter": "datum.p==6"}], "mark": {"type": "circle", "color": "black", "opacity": 1, "size": 45},
       "encoding": {"x": {"field": "g", "type": "nominal", "sort": ["Naïve","D6 EAE","D9 EAE","D12 EAE","D15 EAE"]}, "y": {"field": "v", "type": "quantitative"}}}
     ]},
     {"layer": [
      {"data": {"name": "sig"}, "transform": [{"filter": "datum.p==6"}], "mark": {"type": "rule", "color": "black", "strokeWidth": 1.7},
       "encoding": {"x": {"field": "a", "type": "quantitative", "scale": {"domain": [-0.5,4.5], "nice": false, "zero": false}, "axis": null}, "x2": {"field": "b"}, "y": {"field": "y", "type": "quantitative"}}},
      {"data": {"name": "sig"}, "transform": [{"filter": "datum.p==6"}], "mark": {"type": "text", "font": "Liberation Sans", "fontSize": 34, "baseline": "middle", "dy": 3, "color": "black"},
       "encoding": {"x": {"field": "c", "type": "quantitative", "scale": {"domain": [-0.5,4.5], "nice": false, "zero": false}, "axis": null}, "y": {"field": "y", "type": "quantitative"}, "text": {"field": "s"}}}
     ]}
    ],
    "resolve": {"scale": {"x": "independent"}}}
  ],
  "spacing": 96.7, "bounds": "flush",
  "title": {"text": "Non-inflammatory monocytes", "font": "Lato", "fontSize": 43, "fontWeight": "bold", "anchor": "middle", "dx": 84, "offset": 2}},
  {"vconcat": [
   {"hconcat": [
    {"width": 363, "height": 241,
     "layer": [
      {"layer": [
       {"data": {"name": "bars"}, "transform": [{"filter": "datum.p==7"}], "mark": {"type": "bar", "fill": "#ff0000", "stroke": "black", "strokeWidth": 3},
        "encoding": {"x": {"field": "g", "type": "nominal", "sort": ["Naïve","D6 EAE","D9 EAE","D12 EAE","D15 EAE"], "scale": {"paddingInner": 0.39, "paddingOuter": 0.195}, "axis": {"title": null}},
         "y": {"field": "m", "type": "quantitative", "scale": {"domain": [0,0.6]}, "axis": {"title": "% CLN-5⁺", "values": [0,0.2,0.4,0.6], "format": ".1f", "titlePadding": 21.7}}}},
       {"data": {"name": "bars"}, "transform": [{"filter": "datum.p==7"}], "mark": {"type": "rule", "color": "black", "strokeWidth": 3},
        "encoding": {"x": {"field": "g", "type": "nominal", "sort": ["Naïve","D6 EAE","D9 EAE","D12 EAE","D15 EAE"]}, "y": {"field": "m", "type": "quantitative"}, "y2": {"field": "h"}}},
       {"data": {"name": "bars"}, "transform": [{"filter": "datum.p==7"}], "mark": {"type": "tick", "color": "black", "thickness": 3, "size": 24},
        "encoding": {"x": {"field": "g", "type": "nominal", "sort": ["Naïve","D6 EAE","D9 EAE","D12 EAE","D15 EAE"]}, "y": {"field": "h", "type": "quantitative"}}},
       {"data": {"name": "pts"}, "transform": [{"filter": "datum.p==7"}], "mark": {"type": "circle", "color": "black", "opacity": 1, "size": 45},
        "encoding": {"x": {"field": "g", "type": "nominal", "sort": ["Naïve","D6 EAE","D9 EAE","D12 EAE","D15 EAE"]}, "y": {"field": "v", "type": "quantitative"}}}
      ]},
      {"layer": [
       {"data": {"name": "sig"}, "transform": [{"filter": "datum.p==7"}], "mark": {"type": "rule", "color": "black", "strokeWidth": 1.7},
        "encoding": {"x": {"field": "a", "type": "quantitative", "scale": {"domain": [-0.5,4.5], "nice": false, "zero": false}, "axis": null}, "x2": {"field": "b"}, "y": {"field": "y", "type": "quantitative"}}},
       {"data": {"name": "sig"}, "transform": [{"filter": "datum.p==7"}], "mark": {"type": "text", "font": "Liberation Sans", "fontSize": 34, "baseline": "middle", "dy": 3, "color": "black"},
        "encoding": {"x": {"field": "c", "type": "quantitative", "scale": {"domain": [-0.5,4.5], "nice": false, "zero": false}, "axis": null}, "y": {"field": "y", "type": "quantitative"}, "text": {"field": "s"}}}
      ]}
     ],
     "resolve": {"scale": {"x": "independent"}}},
    {"width": 362, "height": 241,
     "layer": [
      {"data": {"name": "bars"}, "transform": [{"filter": "datum.p==8"}], "mark": {"type": "bar", "fill": "#5959f5", "stroke": "black", "strokeWidth": 3},
       "encoding": {"x": {"field": "g", "type": "nominal", "sort": ["Naïve","D6 EAE","D9 EAE","D12 EAE","D15 EAE"], "scale": {"paddingInner": 0.39, "paddingOuter": 0.195}, "axis": {"title": null}},
        "y": {"field": "m", "type": "quantitative", "scale": {"domain": [0,30]}, "axis": {"title": "% CLN-5⁺", "values": [0,10,20,30], "titlePadding": 5.9}}}},
      {"data": {"name": "bars"}, "transform": [{"filter": "datum.p==8"}], "mark": {"type": "rule", "color": "black", "strokeWidth": 3},
       "encoding": {"x": {"field": "g", "type": "nominal", "sort": ["Naïve","D6 EAE","D9 EAE","D12 EAE","D15 EAE"]}, "y": {"field": "m", "type": "quantitative"}, "y2": {"field": "h"}}},
      {"data": {"name": "bars"}, "transform": [{"filter": "datum.p==8"}], "mark": {"type": "tick", "color": "black", "thickness": 3, "size": 24},
       "encoding": {"x": {"field": "g", "type": "nominal", "sort": ["Naïve","D6 EAE","D9 EAE","D12 EAE","D15 EAE"]}, "y": {"field": "h", "type": "quantitative"}}},
      {"data": {"name": "pts"}, "transform": [{"filter": "datum.p==8"}], "mark": {"type": "circle", "color": "black", "opacity": 1, "size": 45},
       "encoding": {"x": {"field": "g", "type": "nominal", "sort": ["Naïve","D6 EAE","D9 EAE","D12 EAE","D15 EAE"]}, "y": {"field": "v", "type": "quantitative"}}}
     ]}
   ], "spacing": 95.7, "bounds": "flush"},
   {"vconcat": [
    {"hconcat": [
     {"width": 363, "height": 241,
      "layer": [
       {"layer": [
        {"data": {"name": "bars"}, "transform": [{"filter": "datum.p==9"}], "mark": {"type": "bar", "fill": "#ff0000", "stroke": "black", "strokeWidth": 3},
         "encoding": {"x": {"field": "g", "type": "nominal", "sort": ["Naïve","D6 EAE","D9 EAE","D12 EAE","D15 EAE"], "scale": {"paddingInner": 0.39, "paddingOuter": 0.195}, "axis": {"title": null}},
          "y": {"field": "m", "type": "quantitative", "scale": {"domain": [0,20]}, "axis": {"title": "CLN-5⁺ cells/uL", "values": [0,5,10,15,20], "titlePadding": 25.9}}}},
        {"data": {"name": "bars"}, "transform": [{"filter": "datum.p==9"}], "mark": {"type": "rule", "color": "black", "strokeWidth": 3},
         "encoding": {"x": {"field": "g", "type": "nominal", "sort": ["Naïve","D6 EAE","D9 EAE","D12 EAE","D15 EAE"]}, "y": {"field": "m", "type": "quantitative"}, "y2": {"field": "h"}}},
        {"data": {"name": "bars"}, "transform": [{"filter": "datum.p==9"}], "mark": {"type": "tick", "color": "black", "thickness": 3, "size": 24},
         "encoding": {"x": {"field": "g", "type": "nominal", "sort": ["Naïve","D6 EAE","D9 EAE","D12 EAE","D15 EAE"]}, "y": {"field": "h", "type": "quantitative"}}},
        {"data": {"name": "pts"}, "transform": [{"filter": "datum.p==9"}], "mark": {"type": "circle", "color": "black", "opacity": 1, "size": 45},
         "encoding": {"x": {"field": "g", "type": "nominal", "sort": ["Naïve","D6 EAE","D9 EAE","D12 EAE","D15 EAE"]}, "y": {"field": "v", "type": "quantitative"}}}
       ]},
       {"layer": [
        {"data": {"name": "sig"}, "transform": [{"filter": "datum.p==9"}], "mark": {"type": "rule", "color": "black", "strokeWidth": 1.7},
         "encoding": {"x": {"field": "a", "type": "quantitative", "scale": {"domain": [-0.5,4.5], "nice": false, "zero": false}, "axis": null}, "x2": {"field": "b"}, "y": {"field": "y", "type": "quantitative"}}},
        {"data": {"name": "sig"}, "transform": [{"filter": "datum.p==9"}], "mark": {"type": "text", "font": "Liberation Sans", "fontSize": 34, "baseline": "middle", "dy": 3, "color": "black"},
         "encoding": {"x": {"field": "c", "type": "quantitative", "scale": {"domain": [-0.5,4.5], "nice": false, "zero": false}, "axis": null}, "y": {"field": "y", "type": "quantitative"}, "text": {"field": "s"}}}
       ]}
      ],
      "resolve": {"scale": {"x": "independent"}}},
     {"width": 362, "height": 241,
      "layer": [
       {"layer": [
        {"data": {"name": "bars"}, "transform": [{"filter": "datum.p==10"}], "mark": {"type": "bar", "fill": "#5959f5", "stroke": "black", "strokeWidth": 3},
         "encoding": {"x": {"field": "g", "type": "nominal", "sort": ["Naïve","D6 EAE","D9 EAE","D12 EAE","D15 EAE"], "scale": {"paddingInner": 0.39, "paddingOuter": 0.195}, "axis": {"title": null}},
          "y": {"field": "m", "type": "quantitative", "scale": {"domain": [0,15]}, "axis": {"title": "CLN-5⁺ cells/uL", "values": [0,5,10,15], "titlePadding": 15.9}}}},
        {"data": {"name": "bars"}, "transform": [{"filter": "datum.p==10"}], "mark": {"type": "rule", "color": "black", "strokeWidth": 3},
         "encoding": {"x": {"field": "g", "type": "nominal", "sort": ["Naïve","D6 EAE","D9 EAE","D12 EAE","D15 EAE"]}, "y": {"field": "m", "type": "quantitative"}, "y2": {"field": "h"}}},
        {"data": {"name": "bars"}, "transform": [{"filter": "datum.p==10"}], "mark": {"type": "tick", "color": "black", "thickness": 3, "size": 24},
         "encoding": {"x": {"field": "g", "type": "nominal", "sort": ["Naïve","D6 EAE","D9 EAE","D12 EAE","D15 EAE"]}, "y": {"field": "h", "type": "quantitative"}}},
        {"data": {"name": "pts"}, "transform": [{"filter": "datum.p==10"}], "mark": {"type": "circle", "color": "black", "opacity": 1, "size": 45},
         "encoding": {"x": {"field": "g", "type": "nominal", "sort": ["Naïve","D6 EAE","D9 EAE","D12 EAE","D15 EAE"]}, "y": {"field": "v", "type": "quantitative"}}}
       ]},
       {"layer": [
        {"data": {"name": "sig"}, "transform": [{"filter": "datum.p==10"}], "mark": {"type": "rule", "color": "black", "strokeWidth": 1.7},
         "encoding": {"x": {"field": "a", "type": "quantitative", "scale": {"domain": [-0.5,4.5], "nice": false, "zero": false}, "axis": null}, "x2": {"field": "b"}, "y": {"field": "y", "type": "quantitative"}}},
        {"data": {"name": "sig"}, "transform": [{"filter": "datum.p==10"}], "mark": {"type": "text", "font": "Liberation Sans", "fontSize": 34, "baseline": "middle", "dy": 3, "color": "black"},
         "encoding": {"x": {"field": "c", "type": "quantitative", "scale": {"domain": [-0.5,4.5], "nice": false, "zero": false}, "axis": null}, "y": {"field": "y", "type": "quantitative"}, "text": {"field": "s"}}}
       ]}
      ],
      "resolve": {"scale": {"x": "independent"}}}
    ],
    "spacing": 104.7, "bounds": "flush",
    "title": {"text": "Inflammatory monocytes", "font": "Lato", "fontSize": 43, "fontWeight": "bold", "anchor": "middle", "dx": 63.5, "offset": 18}},
    {"hconcat": [
     {"width": 363, "height": 241,
      "layer": [
       {"layer": [
        {"data": {"name": "bars"}, "transform": [{"filter": "datum.p==11"}], "mark": {"type": "bar", "fill": "#ff0000", "stroke": "black", "strokeWidth": 3},
         "encoding": {"x": {"field": "g", "type": "nominal", "sort": ["Naïve","D6 EAE","D9 EAE","D12 EAE","D15 EAE"], "scale": {"paddingInner": 0.39, "paddingOuter": 0.195}, "axis": {"title": null}},
          "y": {"field": "m", "type": "quantitative", "scale": {"domain": [0,0.4]}, "axis": {"title": "% CLN-5⁺", "values": [0,0.1,0.2,0.3,0.4], "format": ".1f", "titlePadding": 21.7}}}},
        {"data": {"name": "bars"}, "transform": [{"filter": "datum.p==11"}], "mark": {"type": "rule", "color": "black", "strokeWidth": 3},
         "encoding": {"x": {"field": "g", "type": "nominal", "sort": ["Naïve","D6 EAE","D9 EAE","D12 EAE","D15 EAE"]}, "y": {"field": "m", "type": "quantitative"}, "y2": {"field": "h"}}},
        {"data": {"name": "bars"}, "transform": [{"filter": "datum.p==11"}], "mark": {"type": "tick", "color": "black", "thickness": 3, "size": 24},
         "encoding": {"x": {"field": "g", "type": "nominal", "sort": ["Naïve","D6 EAE","D9 EAE","D12 EAE","D15 EAE"]}, "y": {"field": "h", "type": "quantitative"}}},
        {"data": {"name": "pts"}, "transform": [{"filter": "datum.p==11"}], "mark": {"type": "circle", "color": "black", "opacity": 1, "size": 45},
         "encoding": {"x": {"field": "g", "type": "nominal", "sort": ["Naïve","D6 EAE","D9 EAE","D12 EAE","D15 EAE"]}, "y": {"field": "v", "type": "quantitative"}}}
       ]},
       {"layer": [
        {"data": {"name": "sig"}, "transform": [{"filter": "datum.p==11"}], "mark": {"type": "rule", "color": "black", "strokeWidth": 1.7},
         "encoding": {"x": {"field": "a", "type": "quantitative", "scale": {"domain": [-0.5,4.5], "nice": false, "zero": false}, "axis": null}, "x2": {"field": "b"}, "y": {"field": "y", "type": "quantitative"}}},
        {"data": {"name": "sig"}, "transform": [{"filter": "datum.p==11"}], "mark": {"type": "text", "font": "Liberation Sans", "fontSize": 34, "baseline": "middle", "dy": 3, "color": "black"},
         "encoding": {"x": {"field": "c", "type": "quantitative", "scale": {"domain": [-0.5,4.5], "nice": false, "zero": false}, "axis": null}, "y": {"field": "y", "type": "quantitative"}, "text": {"field": "s"}}}
       ]}
      ],
      "resolve": {"scale": {"x": "independent"}}},
     {"width": 362, "height": 241,
      "layer": [
       {"data": {"name": "bars"}, "transform": [{"filter": "datum.p==12"}], "mark": {"type": "bar", "fill": "#5959f5", "stroke": "black", "strokeWidth": 3},
        "encoding": {"x": {"field": "g", "type": "nominal", "sort": ["Naïve","D6 EAE","D9 EAE","D12 EAE","D15 EAE"], "scale": {"paddingInner": 0.39, "paddingOuter": 0.195}, "axis": {"title": null}},
         "y": {"field": "m", "type": "quantitative", "scale": {"domain": [0,80]}, "axis": {"title": "% CLN-5⁺", "values": [0,20,40,60,80], "titlePadding": 14.9}}}},
       {"data": {"name": "bars"}, "transform": [{"filter": "datum.p==12"}], "mark": {"type": "rule", "color": "black", "strokeWidth": 3},
        "encoding": {"x": {"field": "g", "type": "nominal", "sort": ["Naïve","D6 EAE","D9 EAE","D12 EAE","D15 EAE"]}, "y": {"field": "m", "type": "quantitative"}, "y2": {"field": "h"}}},
       {"data": {"name": "bars"}, "transform": [{"filter": "datum.p==12"}], "mark": {"type": "tick", "color": "black", "thickness": 3, "size": 24},
        "encoding": {"x": {"field": "g", "type": "nominal", "sort": ["Naïve","D6 EAE","D9 EAE","D12 EAE","D15 EAE"]}, "y": {"field": "h", "type": "quantitative"}}},
       {"data": {"name": "pts"}, "transform": [{"filter": "datum.p==12"}], "mark": {"type": "circle", "color": "black", "opacity": 1, "size": 45},
        "encoding": {"x": {"field": "g", "type": "nominal", "sort": ["Naïve","D6 EAE","D9 EAE","D12 EAE","D15 EAE"]}, "y": {"field": "v", "type": "quantitative"}}}
      ]}
    ], "spacing": 104.7, "bounds": "flush"}
   ], "spacing": 45}
  ], "spacing": 51}
 ], "spacing": 44}
], "spacing": 42.3}
], "spacing": 40}
